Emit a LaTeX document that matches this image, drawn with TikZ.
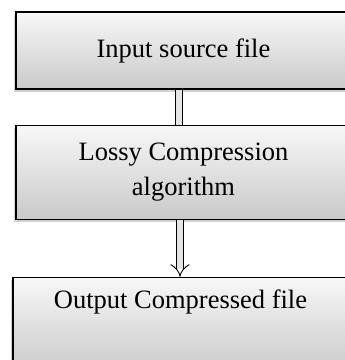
\documentclass[tikz,border=0pt]{standalone}
\usepackage{fontspec}
\setmainfont{Liberation Serif}
\usetikzlibrary{positioning,shadows,arrows.meta}

\begin{document}
\begin{tikzpicture}
  [x=1pt,y=1pt,
   stage/.style={
    rectangle,
    draw,
    line width=1.2pt,
    top color=gray!6,
    bottom color=gray!42,
    drop shadow={shadow xshift=-2pt,shadow yshift=-3pt,fill=gray!70},
    minimum width=335pt,
    align=center,
    font=\fontsize{26.5}{35}\selectfont
    },
   pipe/.style={
    draw=black,
    line width=0.9pt,
    double=gray!20,
    double distance=6pt
    }
  ]
  \useasboundingbox (0,0) rectangle (345,-360);

  \node [stage, minimum height=77pt] (input) at (183.5,-50.5) {Input source file};
  \node [stage, minimum height=94pt, below=35pt of input] (lossy)
    {Lossy Compression\\algorithm};
  \node [stage, minimum height=95pt, text depth=52pt, below=57pt of lossy, xshift=-3pt] (output)
    {Output Compressed file};

  % connectors
  \draw [pipe] (input.south -| 179,0) -- (lossy.north -| 179,0);
  \draw [pipe, -{Implies[length=10pt]}] (lossy.south -| 180,0) -- (output.north -| 180,0);
\end{tikzpicture}
\end{document}
